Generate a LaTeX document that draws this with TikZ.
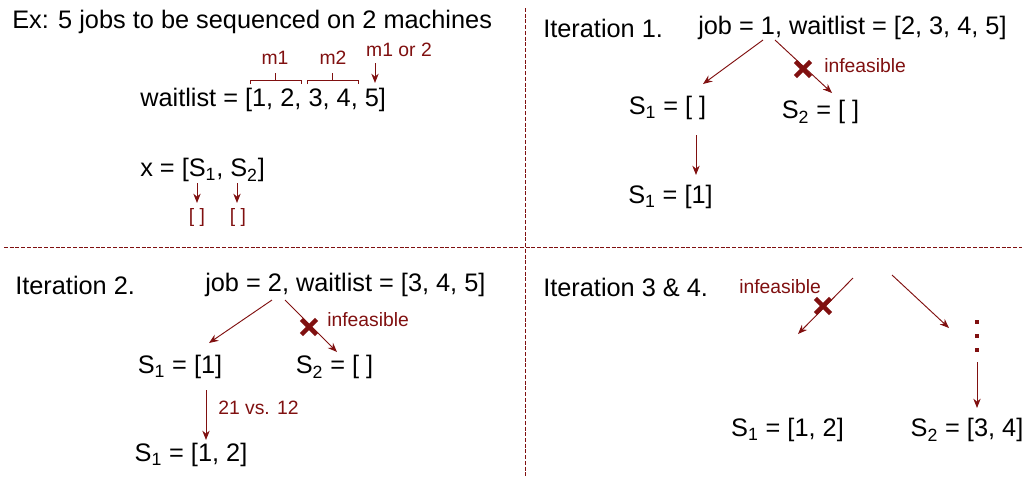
\documentclass[tikz,border=0pt]{standalone}
\usepackage{fontspec}
\setmainfont{Liberation Sans}
\usepackage{tikz}
\usetikzlibrary{arrows.meta,shapes.misc}
\definecolor{redc}{RGB}{128,16,16}
\tikzset{
  lbl/.style={font=\fontsize{19}{22}\selectfont,inner sep=0pt},
  note/.style={font=\fontsize{14.5}{17}\selectfont,text=redc,inner sep=0pt},
  link/.style={-{Stealth[length=7pt,width=5.5pt]},line width=0.7pt,redc},
  sep/.style={dash pattern=on 3pt off 1.3pt,line width=0.7pt,redc},
  brk/.style={line width=0.7pt,redc},
  nogo/.style={cross out,draw=redc,line width=3.4pt,minimum size=8pt,inner sep=0pt},
  dotm/.style={rectangle,fill=redc,minimum size=3pt,inner sep=0pt},
}

\begin{document}
\begin{tikzpicture}[x=0.75pt,y=-0.75pt]
  \useasboundingbox (0,0) rectangle (1026,483);
  % separators
  \draw[sep] (4,247) -- (1022,247);
  \draw[sep] (525,8) -- (525,478);
  % setup
  \node[lbl,anchor=west] (title) at (12,22) {Ex: 5 jobs to be sequenced on 2 machines};
  \node[lbl,anchor=west] (wait) at (140,100) {waitlist = [1, 2, 3, 4, 5]};
  \node[note] (m1) at (275,58) {m1};
  \node[note] (m2) at (333,58) {m2};
  \node[note] (m12) at (399,50) {m1 or 2};
  \draw[brk] (250,84) -- ++(0,-4) -- ++(51,0) -- ++(0,4) (275.5,80) -- ++(0,-7);
  \draw[brk] (307,84) -- ++(0,-4) -- ++(51,0) -- ++(0,4) (332.5,80) -- ++(0,-7);
  \coordinate (m12t) at (375,63);
  \coordinate (m12b) at (375,83);
  \draw[link] (m12t) -- (m12b);
  \node[lbl,anchor=west] (xvec) at (140,170) {x = [S\textsubscript{1}, S\textsubscript{2}]};
  \node[note] (e1) at (197,217) {[ ]};
  \node[note] (e2) at (238,217) {[ ]};
  \coordinate (x1t) at (197,183);
  \coordinate (x1b) at (197,203);
  \coordinate (x2t) at (237,183);
  \coordinate (x2b) at (237,203);
  \draw[link] (x1t) -- (x1b);
  \draw[link] (x2t) -- (x2b);
  % iteration 1
  \node[lbl,anchor=west] (it1) at (543,28) {Iteration 1.};
  \node[lbl,anchor=west] (job1) at (698,28) {job = 1, waitlist = [2, 3, 4, 5]};
  \coordinate (a1) at (763,40);
  \coordinate (a2) at (703,84);
  \coordinate (a3) at (775,40);
  \coordinate (a4) at (832,93);
  \draw[link] (a1) -- (a2);
  \draw[link] (a3) -- (a4);
  \node[nogo] (x1) at (803,69) {};
  \node[note,anchor=west] (inf1) at (824,66) {infeasible};
  \node[lbl] (s1a) at (667.5,108) {S\textsubscript{1} = [ ]};
  \node[lbl] (s2a) at (820.5,112) {S\textsubscript{2} = [ ]};
  \coordinate (a5) at (696,135);
  \coordinate (a6) at (696,175);
  \draw[link] (a5) -- (a6);
  \node[lbl] (s1b) at (670.5,197) {S\textsubscript{1} = [1]};
  % iteration 2
  \node[lbl,anchor=west] (it2) at (15,285) {Iteration 2.};
  \node[lbl,anchor=west] (job2) at (205,285) {job = 2, waitlist = [3, 4, 5]};
  \coordinate (b1) at (272,300);
  \coordinate (b2) at (209,343);
  \coordinate (b3) at (285,300);
  \coordinate (b4) at (337,352);
  \draw[link] (b1) -- (b2);
  \draw[link] (b3) -- (b4);
  \node[nogo] (x2) at (309,327) {};
  \node[note,anchor=west] (inf2) at (327,320) {infeasible};
  \node[lbl] (s1c) at (180,367) {S\textsubscript{1} = [1]};
  \node[lbl] (s2c) at (334.5,367) {S\textsubscript{2} = [ ]};
  \coordinate (b5) at (206,390);
  \coordinate (b6) at (206,440);
  \draw[link] (b5) -- (b6);
  \node[note,anchor=west] (cmp) at (218,408) {21 vs. 12};
  \node[lbl] (s1d) at (191,455) {S\textsubscript{1} = [1, 2]};
  % iteration 3 & 4
  \node[lbl,anchor=west] (it34) at (543,287) {Iteration 3 \& 4.};
  \node[note,anchor=west] (inf3) at (739,287) {infeasible};
  \coordinate (c1) at (853,278);
  \coordinate (c2) at (798,334);
  \coordinate (c3) at (892,275);
  \coordinate (c4) at (949,328);
  \draw[link] (c1) -- (c2);
  \draw[link] (c3) -- (c4);
  \node[nogo] (x3) at (823,306) {};
  \foreach \y in {322,336,350} \node[dotm] at (977,\y) {};
  \coordinate (c5) at (977,362);
  \coordinate (c6) at (977,408);
  \draw[link] (c5) -- (c6);
  \node[lbl] (s1e) at (787.5,430) {S\textsubscript{1} = [1, 2]};
  \node[lbl] (s2e) at (967,430) {S\textsubscript{2} = [3, 4]};
\end{tikzpicture}
\end{document}
